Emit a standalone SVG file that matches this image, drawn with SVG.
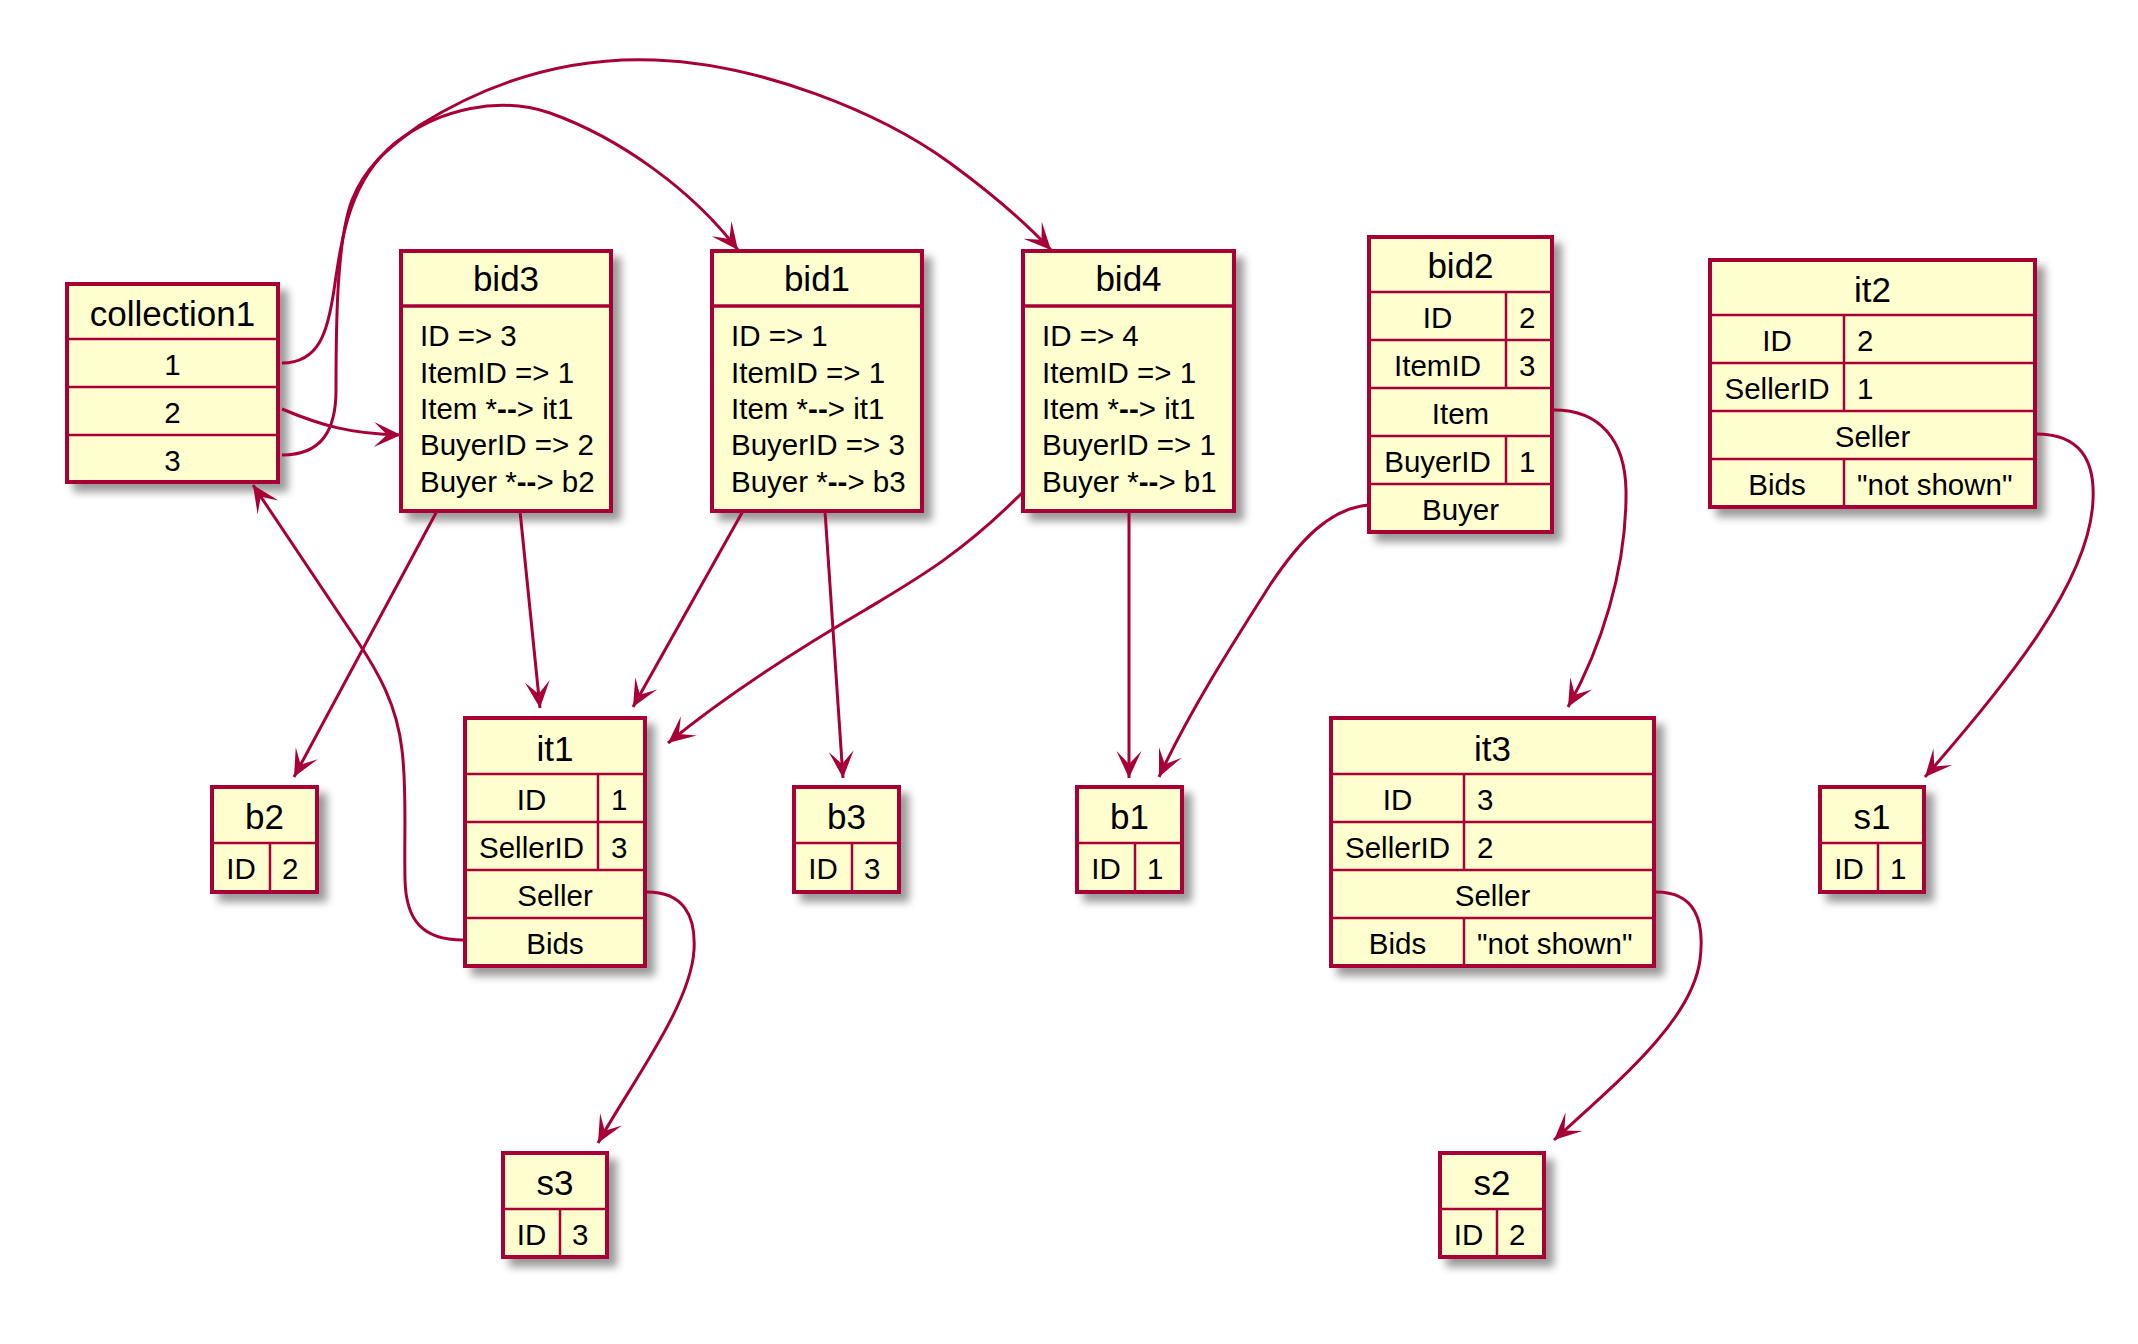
<svg xmlns="http://www.w3.org/2000/svg" width="2138" height="1344" viewBox="0 0 2138 1344">
<defs>
<style>
.box{fill:#FEFECE;stroke:#A80036;stroke-width:4;filter:url(#sh)}
.ln{stroke:#A80036;stroke-width:2.5;fill:none}
.sep{stroke:#A80036;stroke-width:3.5;fill:none}
text{font-family:"Liberation Sans",Arial,sans-serif;fill:#000}
.hd{font-size:35px;text-anchor:middle}
.t{font-size:29.5px}
.c{text-anchor:middle}
.e{fill:none;stroke:#A80036;stroke-width:3;marker-end:url(#ah)}
</style>
<filter id="sh" x="-10%" y="-10%" width="140%" height="140%">
<feGaussianBlur in="SourceAlpha" stdDeviation="4"/>
<feOffset dx="8" dy="8" result="o"/>
<feComponentTransfer><feFuncA type="linear" slope="0.4"/></feComponentTransfer>
<feMerge><feMergeNode/><feMergeNode in="SourceGraphic"/></feMerge>
</filter>
<marker id="ah" markerUnits="userSpaceOnUse" markerWidth="60" markerHeight="60" refX="30" refY="30" orient="auto">
<path d="M30,30 L3,17.5 L16,30 L3,42.5 Z" fill="#A80036"/>
</marker>
</defs>
<rect width="2138" height="1344" fill="#FFFFFF"/>

<g id="collection1">
<rect class="box" x="67" y="284" width="211" height="198"/>
<path class="ln" d="M67,339H278M67,387H278M67,435H278"/>
<text class="hd" x="172.5" y="326">collection1</text>
<text class="t c" x="172.5" y="375">1</text>
<text class="t c" x="172.5" y="423">2</text>
<text class="t c" x="172.5" y="471">3</text>
</g>

<g id="bid3">
<rect class="box" x="401" y="251" width="210" height="260"/>
<path class="sep" d="M401,306H611"/>
<text class="hd" x="506" y="291">bid3</text>
<text class="t" x="420" y="346">ID =&gt; 3</text>
<text class="t" x="420" y="383">ItemID =&gt; 1</text>
<text class="t" x="420" y="419">Item *<tspan font-weight="bold">--</tspan>&gt; it1</text>
<text class="t" x="420" y="455">BuyerID =&gt; 2</text>
<text class="t" x="420" y="492">Buyer *<tspan font-weight="bold">--</tspan>&gt; b2</text>
</g>

<g id="bid1">
<rect class="box" x="712" y="251" width="210" height="260"/>
<path class="sep" d="M712,306H922"/>
<text class="hd" x="817" y="291">bid1</text>
<text class="t" x="731" y="346">ID =&gt; 1</text>
<text class="t" x="731" y="383">ItemID =&gt; 1</text>
<text class="t" x="731" y="419">Item *<tspan font-weight="bold">--</tspan>&gt; it1</text>
<text class="t" x="731" y="455">BuyerID =&gt; 3</text>
<text class="t" x="731" y="492">Buyer *<tspan font-weight="bold">--</tspan>&gt; b3</text>
</g>

<g id="bid4">
<rect class="box" x="1023" y="251" width="211" height="260"/>
<path class="sep" d="M1023,306H1234"/>
<text class="hd" x="1128.5" y="291">bid4</text>
<text class="t" x="1042" y="346">ID =&gt; 4</text>
<text class="t" x="1042" y="383">ItemID =&gt; 1</text>
<text class="t" x="1042" y="419">Item *<tspan font-weight="bold">--</tspan>&gt; it1</text>
<text class="t" x="1042" y="455">BuyerID =&gt; 1</text>
<text class="t" x="1042" y="492">Buyer *<tspan font-weight="bold">--</tspan>&gt; b1</text>
</g>

<g id="bid2">
<rect class="box" x="1369" y="237" width="183" height="295"/>
<path class="ln" d="M1369,292H1552M1369,340H1552M1369,388H1552M1369,436H1552M1369,484H1552M1506,292V388M1506,436V484"/>
<text class="hd" x="1460.5" y="278">bid2</text>
<text class="t c" x="1437.5" y="328">ID</text>
<text class="t" x="1519" y="328">2</text>
<text class="t c" x="1437.5" y="376">ItemID</text>
<text class="t" x="1519" y="376">3</text>
<text class="t c" x="1460.5" y="424">Item</text>
<text class="t c" x="1437.5" y="472">BuyerID</text>
<text class="t" x="1519" y="472">1</text>
<text class="t c" x="1460.5" y="520">Buyer</text>
</g>

<g id="it2">
<rect class="box" x="1710" y="260" width="325" height="247"/>
<path class="ln" d="M1710,315H2035M1710,363H2035M1710,411H2035M1710,459H2035M1844,315V411M1844,459V507"/>
<text class="hd" x="1872.5" y="302">it2</text>
<text class="t c" x="1777" y="351">ID</text>
<text class="t" x="1857" y="351">2</text>
<text class="t c" x="1777" y="399">SellerID</text>
<text class="t" x="1857" y="399">1</text>
<text class="t c" x="1872.5" y="447">Seller</text>
<text class="t c" x="1777" y="495">Bids</text>
<text class="t" x="1857" y="495">"not shown"</text>
</g>

<g id="it1">
<rect class="box" x="465" y="718" width="180" height="248"/>
<path class="ln" d="M465,774H645M465,822H645M465,870H645M465,918H645M598,774V870"/>
<text class="hd" x="555" y="761">it1</text>
<text class="t c" x="531.5" y="810">ID</text>
<text class="t" x="611" y="810">1</text>
<text class="t c" x="531.5" y="858">SellerID</text>
<text class="t" x="611" y="858">3</text>
<text class="t c" x="555" y="906">Seller</text>
<text class="t c" x="555" y="954">Bids</text>
</g>

<g id="it3">
<rect class="box" x="1331" y="718" width="323" height="248"/>
<path class="ln" d="M1331,774H1654M1331,822H1654M1331,870H1654M1331,918H1654M1464,774V870M1464,918V966"/>
<text class="hd" x="1492.5" y="761">it3</text>
<text class="t c" x="1397.5" y="810">ID</text>
<text class="t" x="1477" y="810">3</text>
<text class="t c" x="1397.5" y="858">SellerID</text>
<text class="t" x="1477" y="858">2</text>
<text class="t c" x="1492.5" y="906">Seller</text>
<text class="t c" x="1397.5" y="954">Bids</text>
<text class="t" x="1477" y="954">"not shown"</text>
</g>

<g id="b2">
<rect class="box" x="212" y="787" width="105" height="105"/>
<path class="ln" d="M212,843H317M270,843V892"/>
<text class="hd" x="264.5" y="829">b2</text>
<text class="t c" x="241" y="879">ID</text>
<text class="t" x="282" y="879">2</text>
</g>

<g id="b3">
<rect class="box" x="794" y="787" width="105" height="105"/>
<path class="ln" d="M794,843H899M852,843V892"/>
<text class="hd" x="846.5" y="829">b3</text>
<text class="t c" x="823" y="879">ID</text>
<text class="t" x="864" y="879">3</text>
</g>

<g id="b1">
<rect class="box" x="1077" y="787" width="105" height="105"/>
<path class="ln" d="M1077,843H1182M1135,843V892"/>
<text class="hd" x="1129.5" y="829">b1</text>
<text class="t c" x="1106" y="879">ID</text>
<text class="t" x="1147" y="879">1</text>
</g>

<g id="s1">
<rect class="box" x="1820" y="787" width="104" height="105"/>
<path class="ln" d="M1820,843H1924M1878,843V892"/>
<text class="hd" x="1872" y="829">s1</text>
<text class="t c" x="1849" y="879">ID</text>
<text class="t" x="1890" y="879">1</text>
</g>

<g id="s3">
<rect class="box" x="503" y="1153" width="104" height="104"/>
<path class="ln" d="M503,1209H607M560,1209V1257"/>
<text class="hd" x="555" y="1195">s3</text>
<text class="t c" x="531.5" y="1245">ID</text>
<text class="t" x="572" y="1245">3</text>
</g>

<g id="s2">
<rect class="box" x="1440" y="1153" width="104" height="104"/>
<path class="ln" d="M1440,1209H1544M1497,1209V1257"/>
<text class="hd" x="1492" y="1195">s2</text>
<text class="t c" x="1468.5" y="1245">ID</text>
<text class="t" x="1509" y="1245">2</text>
</g>

<g id="connectors">
<path class="e" d="M282,363 C320,363 328,330 334,290 C342,235 350,180 395,143 C440,108 500,96 550,113 C620,138 692,190 738,250"/>
<path class="e" d="M282,455 C322,455 336,430 336,390 C336,320 337,240 352,200 C365,168 385,150 420,125 C500,75 580,57 655,60 C760,64 880,112 950,163 C995,196 1025,222 1051,250"/>
<path class="e" d="M282,409 C320,425 350,434 401,435"/>
<path class="e" d="M463,940 C422,940 406,920 405,880 C404,830 407,790 402,750 C397,705 378,672 358,642 L253,485"/>
<path class="e" d="M437,511 L294,777"/>
<path class="e" d="M520,511 L540,708"/>
<path class="e" d="M743,511 L633,707"/>
<path class="e" d="M1023,492 C960,555 915,580 865,610 C800,648 730,692 668,743"/>
<path class="e" d="M825,511 L843,778"/>
<path class="e" d="M1129,511 L1129,778"/>
<path class="e" d="M1369,505 C1330,508 1300,540 1270,585 C1235,640 1190,710 1159,777"/>
<path class="e" d="M1554,410 C1600,410 1625,440 1626,490 C1627,570 1600,650 1568,707"/>
<path class="e" d="M647,892 C683,892 696,915 694,950 C691,1005 630,1085 598,1143"/>
<path class="e" d="M1656,892 C1695,892 1705,920 1700,960 C1692,1020 1620,1080 1554,1140"/>
<path class="e" d="M2036,434 C2080,434 2095,460 2093,500 C2090,580 2010,680 1925,777"/>
</g>
</svg>
